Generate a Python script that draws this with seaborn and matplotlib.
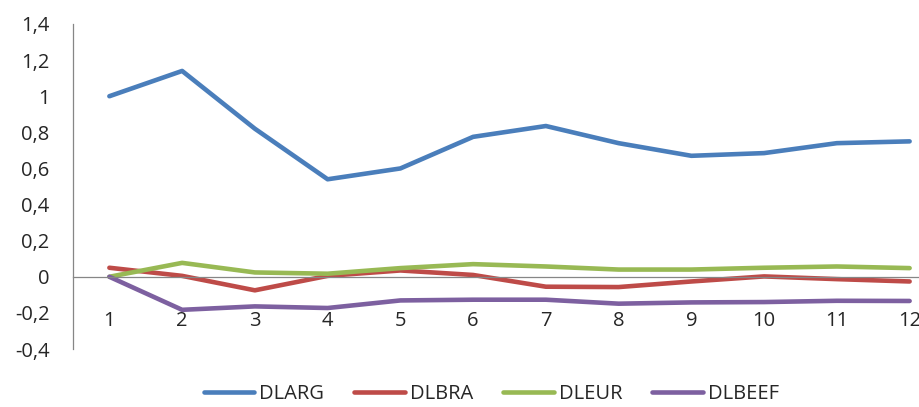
import numpy as np
import pandas as pd
import seaborn as sns
import matplotlib
matplotlib.use("Agg")
import matplotlib.pyplot as plt
from matplotlib.ticker import FixedLocator, FuncFormatter

periods = list(range(1, 13))
dlarg = [1.00, 1.14, 0.82, 0.54, 0.60, 0.775, 0.835, 0.74, 0.67, 0.685, 0.74, 0.75]
dlbra = [0.05, 0.005, -0.075, 0.005, 0.035, 0.01, -0.055, -0.057, -0.026, 0.002, -0.013, -0.026]
dleur = [0.0, 0.077, 0.024, 0.017, 0.048, 0.07, 0.057, 0.04, 0.04, 0.05, 0.057, 0.048]
dlbeef = [0.0, -0.183, -0.164, -0.173, -0.131, -0.127, -0.127, -0.149, -0.142, -0.14, -0.133, -0.134]
series_names = ["DLARG", "DLBRA", "DLEUR", "DLBEEF"]
yticks = [-0.4, -0.2, 0, 0.2, 0.4, 0.6, 0.8, 1, 1.2, 1.4]

df = pd.DataFrame({
    "period": periods * 4,
    "value": dlarg + dlbra + dleur + dlbeef,
    "series": sum([[n] * len(periods) for n in series_names], []),
})

sns.set_style("white")
plt.rcParams["font.family"] = ["Open Sans", "DejaVu Sans"]

palette = {"DLARG": "#4a7ebb", "DLBRA": "#be4b48", "DLEUR": "#98b954", "DLBEEF": "#7d60a0"}
text_color = "#262626"
axis_color = "#868686"
fs = 14.5

fig = plt.figure(figsize=(9.2, 4.07), dpi=100)
# plot area runs past the right edge of the canvas
ax = fig.add_axes([73 / 920, 58 / 407, 873 / 920, 325 / 407])

sns.lineplot(data=df, x="period", y="value", hue="series", hue_order=series_names,
             palette=palette, linewidth=3.3, ax=ax, legend=True)

ax.set_xlim(0.5, 12.5)
ax.set_ylim(-0.4, 1.4)
ax.set_xlabel("")
ax.set_ylabel("")

for side in ("top", "right"):
    ax.spines[side].set_visible(False)
ax.spines["bottom"].set_position(("data", 0))
ax.spines["bottom"].set_color(axis_color)
ax.spines["left"].set_color(axis_color)
ax.spines["bottom"].set_linewidth(0.9)
ax.spines["left"].set_linewidth(0.9)

# y axis
ax.yaxis.set_major_locator(FixedLocator(yticks))
def fmt(v, pos):
    if abs(v - round(v)) < 1e-9:
        return str(int(round(v)))
    return f"{v:.1f}".replace(".", ",")
ax.yaxis.set_major_formatter(FuncFormatter(fmt))
ax.tick_params(axis="y", which="major", direction="out", length=5, width=0.9,
               color=axis_color, labelsize=fs, labelcolor=text_color, pad=12)

# x axis: category labels below, tick marks between categories
ax.xaxis.set_major_locator(FixedLocator(periods))
ax.xaxis.set_minor_locator(FixedLocator([p + 0.5 for p in periods]))
ax.xaxis.set_major_formatter(FuncFormatter(lambda v, p: f"{int(v)}"))
ax.tick_params(axis="x", which="major", length=0, labelsize=fs,
               labelcolor=text_color, pad=25)
ax.tick_params(axis="x", which="minor", direction="out", length=6, width=0.9,
               color=axis_color)

handles, labels = ax.get_legend_handles_labels()
ax.legend_.remove()
fig.legend(handles, labels, loc="center", bbox_to_anchor=(0.534, 1 - 394 / 407),
           ncol=4, frameon=False, fontsize=fs, handlelength=2.5,
           handletextpad=0.25, columnspacing=1.5, labelcolor=text_color)

fig.savefig("out.png", dpi=100)
